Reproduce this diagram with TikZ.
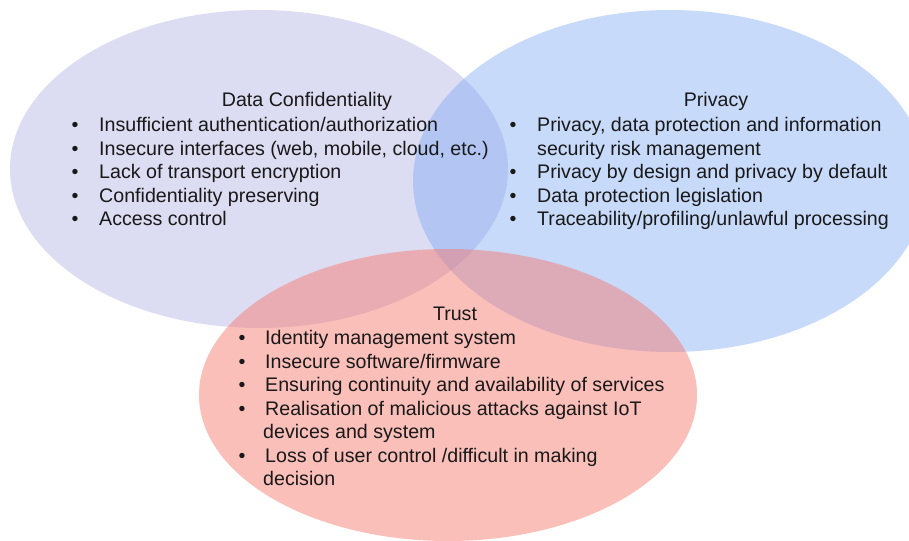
\documentclass[tikz,border=0pt]{standalone}
\usepackage{fontspec}
\setmainfont{Liberation Sans}
\usetikzlibrary{positioning}

\definecolor{dcfill}{RGB}{155,155,218}
\definecolor{privfill}{RGB}{118,163,243}
\definecolor{trustfill}{RGB}{248,115,102}
\definecolor{inktext}{RGB}{25,25,25}

\tikzset{
  blob/.style={fill opacity=#1},
  txt/.style={inner sep=0pt, text=inktext, font=\fontsize{19.7}{23}\selectfont},
  item/.style={txt, anchor=base west},
  dot/.style={txt, anchor=base},
  head/.style={txt, anchor=base}
}

\begin{document}
\begin{tikzpicture}[x=1bp,y=-1bp]
        \useasboundingbox (0,0) rectangle (909,541);
        \fill[white] (0,0) rectangle (909,541);
        \begin{scope}
            \clip (0,0) rectangle (909,541);
            \fill[dcfill, blob=0.35] (259,169) ellipse [x radius=249, y radius=159];
            \fill[privfill, blob=0.4] (670,181) ellipse [x radius=257, y radius=171];
            \fill[trustfill, blob=0.45] (448,395) ellipse [x radius=249, y radius=146];
        \end{scope}

        % Data Confidentiality
        \node[head] (dchead) at (307,107) {Data Confidentiality};
        \foreach \y/\txt [count=\i] in {132/{Insufficient authentication/authorization}, 155.4/{Insecure interfaces (web, mobile, cloud, etc.)}, 178.8/{Lack of transport encryption}, 202.2/{Confidentiality preserving}, 225.6/{Access control}}{
            \node[dot] (dcdot\i) at (75,\y) {\textbullet};
            \node[item] (dc\i) at (99,\y) {\txt};
        }

        % Privacy
        \node[head] (privhead) at (716,107) {Privacy};
        \foreach \y/\b/\txt [count=\i] in {132/1/{Privacy, data protection and information}, 155.4/0/{security risk management}, 178.8/1/{Privacy by design and privacy by default}, 202.2/1/{Data protection legislation}, 225.6/1/{Traceability/profiling/unlawful processing}}{
            \ifnum\b=1 \node[dot] (privdot\i) at (513,\y) {\textbullet}; \fi
            \node[item] (priv\i) at (537,\y) {\txt};
        }

        % Trust
        \node[head] (trusthead) at (455,321) {Trust};
        \foreach \y/\b/\txt [count=\i] in {345/1/{Identity management system}, 368.4/1/{Insecure software/firmware}, 391.8/1/{Ensuring continuity and availability of services}, 415.2/1/{Realisation of malicious attacks against IoT}, 438.6/0/{devices and system}, 462/1/{Loss of user control /difficult in making}, 485.4/0/{decision}}{
            \ifnum\b=1 \node[dot] (trustdot\i) at (242,\y) {\textbullet}; \node[item] (trust\i) at (265,\y) {\txt};
            \else \node[item] (trust\i) at (263,\y) {\txt}; \fi
        }
    \end{tikzpicture}
\end{document}
